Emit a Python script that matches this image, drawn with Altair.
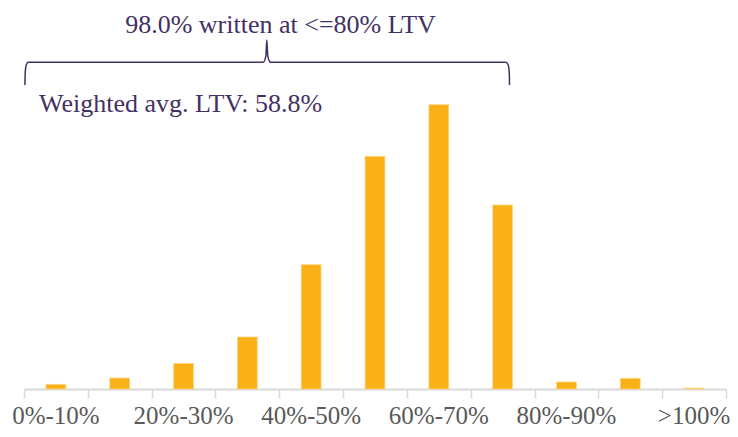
import altair as alt
import pandas as pd

# Categories and values (% of loans by LTV bucket)
categories = ["0%-10%", "10%-20%", "20%-30%", "30%-40%", "40%-50%", "50%-60%",
              "60%-70%", "70%-80%", "80%-90%", "90%-100%", ">100%"]
shares = [0.49, 1.17, 2.73, 5.55, 13.27, 24.83, 30.35, 19.64, 0.75, 1.13, 0.09]
shown_labels = ["0%-10%", "20%-30%", "40%-50%", "60%-70%", "80%-90%", ">100%"]

# Annotation bracket (x in bucket units, y in % units)
bracket_x = [0.014, 0.02, 0.035, 0.065, 3.75, 3.79, 3.805, 3.82, 3.863, 7.55, 7.587, 7.603, 7.608]
bracket_y = [32.45, 33.84, 34.59, 34.88, 34.88, 35.55, 37.26, 35.55, 34.88, 34.88, 34.59, 33.84, 32.45]
boundaries = list(range(12))

title_text = "98.0% written at <=80% LTV"
avg_text = "Weighted avg. LTV: 58.8%"

PURPLE = "#433163"
FONT = "Liberation Serif"
YMAX = 40.67

bars_df = pd.DataFrame({"bucket": categories, "share": shares})
bracket_df = pd.DataFrame({"q": bracket_x, "v": bracket_y, "i": list(range(len(bracket_x)))})
tick_df = pd.DataFrame({"q": boundaries})
title_df = pd.DataFrame({"q": [4.02], "v": [38.05], "t": [title_text]})
avg_df = pd.DataFrame({"q": [0.235], "v": [29.57], "t": [avg_text]})

yscale = alt.Scale(domain=[0, YMAX], nice=False, zero=True)

bars = alt.Chart(bars_df).mark_bar(color="#FAB117", stroke="#FCD37E", strokeWidth=0.8).encode(
    x=alt.X("bucket:N", sort=categories,
            scale=alt.Scale(paddingInner=0.69, paddingOuter=0.345),
            axis=alt.Axis(values=shown_labels, ticks=False, domain=False, labelAngle=0,
                          labelFont=FONT, labelFontSize=25, labelColor="#595959",
                          labelPadding=14, title=None, grid=False)),
    y=alt.Y("share:Q", scale=yscale, axis=None),
)

qscale = alt.Scale(domain=[0, 11], nice=False, zero=False)

ticks_layer = alt.Chart(tick_df).mark_point(opacity=0).encode(
    x=alt.X("q:Q", scale=qscale,
            axis=alt.Axis(values=boundaries, labels=False, ticks=True, tickSize=9,
                          tickColor="#D9D9D9", tickWidth=1.5, domain=True,
                          domainColor="#D9D9D9", domainWidth=2, grid=False, title=None,
                          orient="bottom")),
    y=alt.value(380),
)

bracket = alt.Chart(bracket_df).mark_line(color=PURPLE, strokeWidth=1.5, interpolate="monotone").encode(
    x=alt.X("q:Q", scale=qscale),
    y=alt.Y("v:Q", scale=yscale, axis=None),
    order="i:Q",
)

title_mark = alt.Chart(title_df).mark_text(
    font=FONT, fontSize=26, color=PURPLE, align="center", baseline="alphabetic"
).encode(x=alt.X("q:Q", scale=qscale), y=alt.Y("v:Q", scale=yscale, axis=None), text="t:N")

avg_mark = alt.Chart(avg_df).mark_text(
    font=FONT, fontSize=26, color=PURPLE, align="left", baseline="alphabetic"
).encode(x=alt.X("q:Q", scale=qscale), y=alt.Y("v:Q", scale=yscale, axis=None), text="t:N")

annot = alt.layer(ticks_layer, bracket, title_mark, avg_mark)

chart = alt.layer(bars, annot).resolve_scale(x="independent").properties(
    width=702, height=381,
    autosize=alt.AutoSizeParams(type="none"),
    padding={"left": 16, "top": 0, "right": 4, "bottom": 40},
    background="white",
).configure_view(stroke=None)

chart.save("out.html", embed_options={"renderer": "svg", "actions": False})
